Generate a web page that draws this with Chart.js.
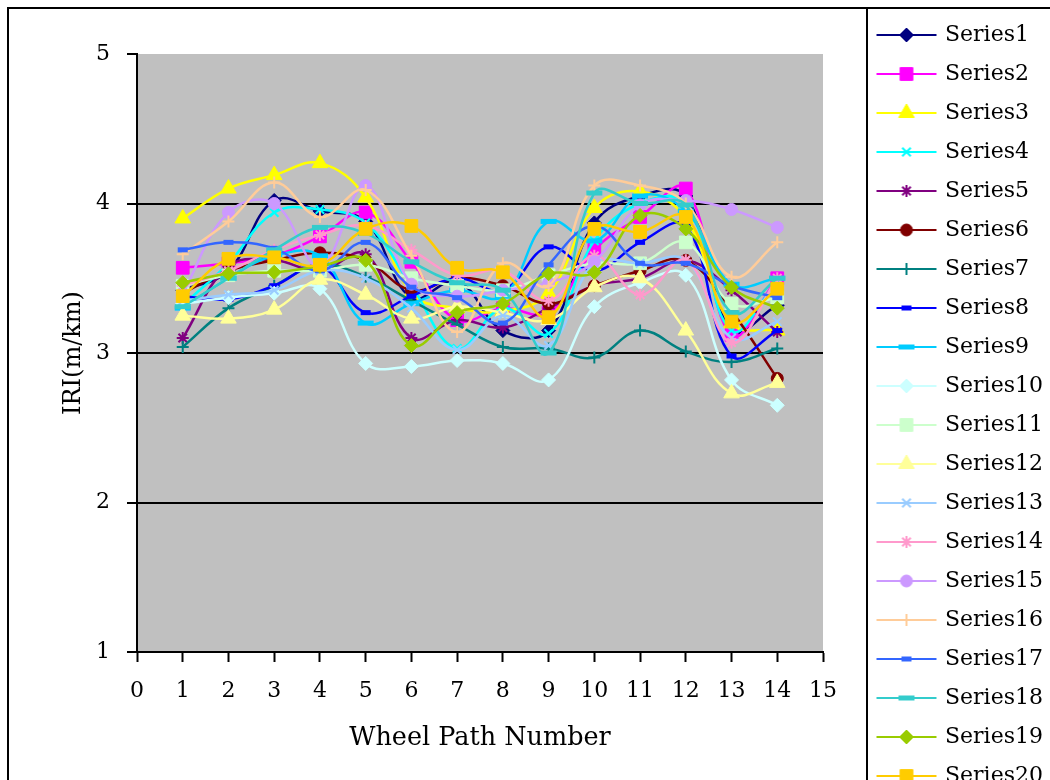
<!DOCTYPE html>
<html>
<head>
<meta charset="utf-8">
<script src="https://cdn.jsdelivr.net/npm/chart.js@4.4.1/dist/chart.umd.min.js"></script>
<style>
  html, body { margin: 0; padding: 0; background: #fff; overflow: hidden; }
  canvas { display: block; }
</style>
</head>
<body>
<canvas id="iriChart" width="1050" height="840"></canvas>
<script>
// wheel paths on the x axis
const paths = [1, 2, 3, 4, 5, 6, 7, 8, 9, 10, 11, 12, 13, 14];
const xTicks = [0, 15];
const yTicks = [1, 5];

// IRI values (m/km)
const series1  = [3.42, 3.55, 4.02, 3.95, 3.88, 3.37, 3.48, 3.15, 3.15, 3.87, 4.05, 4.05, 3.15, 3.32];
const series2  = [3.57, 3.60, 3.65, 3.78, 3.94, 3.61, 3.22, 3.30, 3.27, 3.69, 3.91, 4.10, 3.12, 3.50];
const series3  = [3.90, 4.10, 4.19, 4.27, 4.04, 3.40, 3.30, 3.28, 3.40, 3.97, 4.08, 3.90, 3.20, 3.15];
const series4  = [3.32, 3.60, 3.94, 3.96, 3.87, 3.45, 3.03, 3.30, 3.13, 3.75, 4.00, 4.00, 3.15, 3.48];
const series5  = [3.10, 3.58, 3.62, 3.55, 3.66, 3.10, 3.22, 3.17, 3.30, 3.45, 3.50, 3.62, 3.42, 3.14];
const series6  = [3.40, 3.55, 3.62, 3.67, 3.62, 3.42, 3.50, 3.45, 3.33, 3.45, 3.55, 3.62, 3.28, 2.83];
const series7  = [3.04, 3.30, 3.45, 3.59, 3.51, 3.35, 3.19, 3.04, 3.03, 2.97, 3.15, 3.01, 2.94, 3.03];
const series8  = [3.38, 3.36, 3.45, 3.58, 3.27, 3.38, 3.50, 3.42, 3.71, 3.55, 3.74, 3.85, 2.98, 3.15];
const series9  = [3.30, 3.50, 3.65, 3.65, 3.20, 3.33, 3.42, 3.38, 3.88, 3.75, 4.05, 3.95, 3.46, 3.50];
const series10 = [3.33, 3.37, 3.40, 3.43, 2.93, 2.91, 2.95, 2.93, 2.82, 3.31, 3.47, 3.52, 2.82, 2.65];
const series11 = [3.45, 3.52, 3.55, 3.55, 3.59, 3.50, 3.45, 3.42, 3.52, 3.60, 3.60, 3.74, 3.33, 3.37];
const series12 = [3.25, 3.23, 3.29, 3.49, 3.39, 3.23, 3.31, 3.27, 3.22, 3.44, 3.50, 3.15, 2.73, 2.80];
const series13 = [3.35, 3.39, 3.42, 3.55, 3.50, 3.30, 3.02, 3.25, 3.05, 3.60, 3.60, 3.62, 3.10, 3.21];
const series14 = [3.45, 3.55, 3.69, 3.79, 3.85, 3.69, 3.52, 3.55, 3.35, 3.65, 3.39, 3.62, 3.07, 3.50];
const series15 = [3.40, 3.94, 4.00, 3.58, 4.12, 3.46, 3.38, 3.42, 3.47, 3.61, 3.99, 4.02, 3.96, 3.84];
const series16 = [3.66, 3.88, 4.14, 3.91, 4.09, 3.65, 3.14, 3.60, 3.45, 4.12, 4.12, 4.00, 3.51, 3.74];
const series17 = [3.69, 3.74, 3.70, 3.55, 3.74, 3.44, 3.37, 3.20, 3.59, 3.85, 3.60, 3.60, 3.45, 3.37];
const series18 = [3.31, 3.50, 3.69, 3.84, 3.80, 3.61, 3.47, 3.42, 3.00, 4.07, 4.00, 3.99, 3.27, 3.50];
const series19 = [3.47, 3.53, 3.54, 3.58, 3.62, 3.05, 3.27, 3.33, 3.53, 3.54, 3.92, 3.83, 3.44, 3.30];
const series20 = [3.38, 3.63, 3.64, 3.59, 3.83, 3.85, 3.57, 3.54, 3.24, 3.83, 3.81, 3.91, 3.21, 3.43];

const allSeries = [series1, series2, series3, series4, series5, series6, series7, series8, series9, series10,
                   series11, series12, series13, series14, series15, series16, series17, series18, series19, series20];
const seriesNames = allSeries.map((s, i) => 'Series' + (i + 1));

// excel-ish palette and marker styles
const colors = ['#000080', '#FF00FF', '#FFFF00', '#00FFFF', '#800080', '#800000', '#008080', '#0000FF', '#00CCFF', '#CCFFFF',
                '#CCFFCC', '#FFFF99', '#99CCFF', '#FF99CC', '#CC99FF', '#FFCC99', '#3366FF', '#33CCCC', '#99CC00', '#FFCC00'];
const markers = ['rectRot', 'rect', 'triangle', 'crossRot', 'star', 'circle', 'cross', 'line', 'line', 'rectRot',
                 'rect', 'triangle', 'crossRot', 'star', 'circle', 'cross', 'line', 'line', 'rectRot', 'rect'];
const markerSize = {rectRot: 7, rect: 9, triangle: 9, crossRot: 6, star: 6, circle: 6, cross: 6};
const markerBorder = {rectRot: 1, rect: 1, triangle: 1, crossRot: 2, star: 2, circle: 1, cross: 2};

function radiusFor(i) {
  if (markers[i] === 'line') return (i === 8 || i === 17) ? 8 : 5;
  return markerSize[markers[i]];
}
function borderFor(i) {
  return markers[i] === 'line' ? 5 : markerBorder[markers[i]];
}

const FONT = "'DejaVu Serif', serif";

// little line + marker pictures for the legend
function legendPicture(i) {
  const c = document.createElement('canvas');
  c.width = 62; c.height = 22;
  const g = c.getContext('2d');
  g.strokeStyle = colors[i];
  g.fillStyle = colors[i];
  g.lineWidth = 2;
  g.beginPath(); g.moveTo(1, 11); g.lineTo(61, 11); g.stroke();
  g.lineWidth = borderFor(i);
  Chart.helpers.drawPoint(g, {pointStyle: markers[i], rotation: 0, radius: radiusFor(i), borderWidth: borderFor(i)}, 31, 11);
  return c;
}

const datasets = allSeries.map((vals, i) => ({
  label: seriesNames[i],
  data: paths.map((p, k) => ({x: p, y: vals[k]})),
  borderColor: colors[i],
  backgroundColor: colors[i],
  borderWidth: 2.5,
  tension: 0.4,
  pointStyle: markers[i],
  pointRadius: radiusFor(i),
  pointBorderWidth: borderFor(i),
  pointBackgroundColor: colors[i],
  pointBorderColor: colors[i],
  order: 20 - i
}));

// grey plot area, outer frame and legend frame
const framePlugin = {
  id: 'frames',
  beforeDraw(chart) {
    const {ctx, chartArea: a} = chart;
    ctx.save();
    ctx.fillStyle = '#C0C0C0';
    ctx.fillRect(a.left, a.top, a.right - a.left, a.bottom - a.top);
    ctx.restore();
  },
  afterDraw(chart) {
    const ctx = chart.ctx;
    ctx.save();
    ctx.strokeStyle = '#000';
    ctx.lineWidth = 2;
    ctx.beginPath();
    ctx.moveTo(8, chart.height + 5); ctx.lineTo(8, 8); ctx.lineTo(chart.width + 5, 8);
    ctx.moveTo(867, chart.height + 5); ctx.lineTo(867, 8);
    ctx.stroke();
    ctx.restore();
  }
};

Chart.defaults.color = '#000';
Chart.defaults.font.family = FONT;

new Chart(document.getElementById('iriChart'), {
  type: 'line',
  data: {datasets: datasets},
  options: {
    responsive: false,
    animation: false,
    devicePixelRatio: 1,
    layout: {padding: {left: 0, top: 7, right: 0, bottom: 0}},
    plugins: {
      title: {display: true, text: '', padding: {top: 0, bottom: 35}, font: {size: 10}},
      tooltip: {enabled: false},
      legend: {
        position: 'right',
        align: 'start',
        maxWidth: 188,
        labels: {
          usePointStyle: true,
          pointStyleWidth: 55,
          padding: 17,
          font: {size: 22, family: FONT},
          color: '#000',
          generateLabels: chart => seriesNames.map((name, i) => ({
            text: name,
            fillStyle: colors[i],
            strokeStyle: colors[i],
            lineWidth: 0,
            pointStyle: legendPicture(i),
            hidden: false,
            datasetIndex: i
          }))
        }
      }
    },
    scales: {
      x: {
        type: 'linear',
        min: xTicks[0],
        max: xTicks[1],
        ticks: {stepSize: 1, padding: 16, font: {size: 22}, color: '#000', maxRotation: 0},
        grid: {drawOnChartArea: false, tickLength: 10, tickColor: '#000', tickWidth: 2},
        border: {display: true, color: '#000', width: 2},
        title: {display: true, text: 'Wheel Path Number', font: {size: 25.5}, padding: {top: 0, bottom: 86}},
        afterFit: s => { s.height = 188; }
      },
      y: {
        type: 'linear',
        min: yTicks[0],
        max: yTicks[1],
        ticks: {stepSize: 1, padding: 17, font: {size: 22}, color: '#000'},
        grid: {
          color: c => (c.tick && c.tick.value === yTicks[1]) ? 'rgba(0,0,0,0)' : '#000',
          lineWidth: 2,
          tickLength: 10,
          tickColor: '#000',
          tickWidth: 2
        },
        border: {display: true, color: '#000', width: 2},
        title: {display: true, text: 'IRI(m/km)', font: {size: 24}, padding: {top: 59, bottom: 0}},
        afterFit: s => { s.width = 137; }
      },
      gap: {
        type: 'linear',
        position: 'right',
        display: true,
        grid: {display: false},
        border: {display: false},
        ticks: {display: false},
        afterFit: s => { s.width = 39; }
      }
    }
  },
  plugins: [framePlugin]
});
</script>
</body>
</html>
